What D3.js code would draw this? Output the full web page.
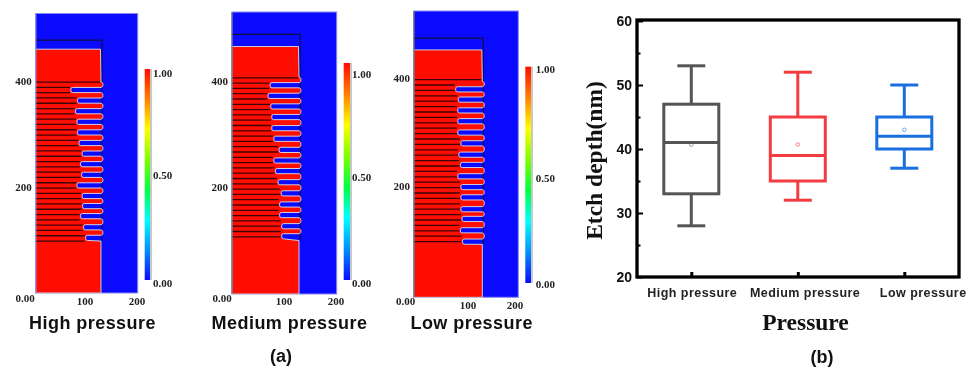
<!DOCTYPE html>
<html lang="en">
    <head>
        <meta charset="utf-8">
        <title>Etch depth</title>
        <script type="text/javascript" src="https://d3js.org/d3.v7.min.js"></script>
        <style type="text/css">
          html, body { margin: 0; padding: 0; background: #fff; }
          svg { display: block; filter: blur(0.45px); }
          .sans { font-family: "Liberation Sans", Arial, sans-serif; font-weight: bold; }
          .serif { font-family: "Liberation Serif", "Times New Roman", serif; font-weight: bold; }
        </style>
    </head>
    <body>
        <svg width="972" height="370"></svg>
        <script type="text/javascript">
            //(a) simulation panels: groove centre height and groove tip position
            const panelNames = ["High pressure", "Medium pressure", "Low pressure"];
            const grooveHeightHigh = [383, 363, 343, 323, 303, 283, 263, 243, 223, 203, 183, 164, 145, 124, 104];
            const grooveTipHigh = [69, 82, 78, 81, 82, 85, 91, 88, 90, 81, 91, 92, 88, 94, 98];
            const grooveHeightMedium = [392, 372, 352, 332, 311, 291, 270, 250, 230, 209, 188, 167, 147, 126, 107];
            const grooveTipMedium = [73, 69, 74, 76, 76, 80, 90, 80, 83, 88, 94, 91, 91, 95, 95];
            const grooveHeightLow = [379, 360, 340, 320, 299, 279, 258, 239, 218, 198, 179, 157, 139, 118, 97];
            const grooveTipLow = [80, 85, 84, 84, 84, 90, 86, 89, 84, 90, 90, 90, 92, 89, 93];
            const stripeLevels = [300, 290, 280, 270, 260, 250, 240, 230, 220, 210, 200, 190, 180, 170, 160, 150, 140, 130, 120, 110, 100, 90, 80, 70, 60, 50, 40, 30, 20, 10, 0];
            const xTicksA = [100, 200];
            const yTicksA = [400, 200];
            const barTicks = [1, 0.5, 0];
            const jetStops = ["#ff0a00", "#ff8000", "#ffff00", "#80ff00", "#00ff40", "#00ffff", "#0090ff", "#0a0aff"];

            //(b) box plot
            const boxNames = ["High pressure", "Medium pressure", "Low pressure"];
            const whiskerLow = [28, 32, 37];
            const boxQ1 = [33, 35, 40];
            const boxMedian = [41, 39, 42];
            const boxQ3 = [47, 45, 45];
            const whiskerHigh = [53, 52, 50];
            const boxMean = [40.7, 40.7, 43];
            const boxColors = ["#555555", "#f23c42", "#1a6fe0"];
            const yTicksB = [20, 30, 40, 50, 60];
            const yMinorB = [25, 35, 45, 55];

            const svg = d3.select("svg");
            const BLUE = "#0a0aff", RED = "#ff0d00", EDGE = "#cfcfdc";

            //where each panel sits on the page
            const layout = [
              {name: panelNames[0], heights: grooveHeightHigh, tips: grooveTipHigh, left: 35.7, right: 137.7, y0: 293, y400: 81,
               top: 13.5, bottom: 293, solidTop: 460, boxTop: 477, blockTop: 98, wall: 128, stripeShift: 98, leftEdge: "#8a8aee",
               bar: [144.7, 150, 69, 280], barY: [73, 175, 283], barX: 153,
               zeroX: 25, zeroY: 298, tickY: 301, tickX: [85, 137], titleX: 92.5},
              {name: panelNames[1], heights: grooveHeightMedium, tips: grooveTipMedium, left: 232, right: 336.7, y0: 293, y400: 81,
               top: 12, bottom: 294, solidTop: 465, boxTop: 488, blockTop: 99, wall: 128, stripeShift: 106, leftEdge: "#666680",
               bar: [343.7, 350, 63, 280], barY: [74, 177, 283], barX: 352,
               zeroX: 222, zeroY: 298, tickY: 301, tickX: [284, 336], titleX: 289.5},
              {name: panelNames[2], heights: grooveHeightLow, tips: grooveTipLow, left: 414, right: 518.3, y0: 294, y400: 78,
               top: 11, bottom: 297.3, solidTop: 452, boxTop: 474, blockTop: 92, wall: 131, stripeShift: 97, leftEdge: "#555566",
               bar: [525.3, 531, 66.7, 283], barY: [69, 178, 284], barX: 535.7,
               zeroX: 405.7, zeroY: 301, tickY: 305, tickX: [468, 515], titleX: 471.7}
            ];

            //colorbar gradient
            const defs = svg.append("defs");
            const gradient = defs.append("linearGradient")
                                 .attr("id", "jet")
                                 .attr("x1", 0).attr("x2", 0)
                                 .attr("y1", 0).attr("y2", 1);
            gradient.selectAll("stop")
                    .data(jetStops)
                    .enter()
                    .append("stop")
                    .attr("offset", (d, i) => i / (jetStops.length - 1))
                    .attr("stop-color", d => d);

            //outline of the etched material, bottom wall first then up over the fins
            function materialPath(p, x, y) {
              const path = d3.path();
              const wall = x(p.wall), half = 2.6, bend = 1.8, bulge = 2.6;
              path.moveTo(p.left, p.bottom);
              path.lineTo(wall, p.bottom);
              let last = y(p.blockTop);
              path.lineTo(wall, last);
              const order = d3.range(p.heights.length).reverse();
              order.forEach((k, n) => {
                const cy = y(p.heights[k]), tip = x(p.tips[k]);
                const low = cy + half, high = cy - half;
                if (n > 0) path.bezierCurveTo(wall + bulge, last, wall + bulge, low, wall, low);
                path.lineTo(tip + bend, low);
                path.quadraticCurveTo(tip, low, tip, low - bend);
                path.lineTo(tip, high + bend);
                path.quadraticCurveTo(tip, high, tip + bend, high);
                path.lineTo(wall, high);
                last = high;
              });
              const fin = last - 5.5;
              path.bezierCurveTo(wall + bulge, last, wall + bulge, fin, wall, fin);
              path.lineTo(wall - 0.5, y(p.solidTop));
              path.lineTo(p.left, y(p.solidTop));
              path.closePath();
              return path.toString();
            }

            layout.forEach(p => {
              const g = svg.append("g");
              const x = d3.scaleLinear().domain([0, 200]).range([p.left, p.right]);
              const y = d3.scaleLinear().domain([0, 400]).range([p.y0, p.y400]);
              const wall = x(p.wall);

              //blue gas region
              g.append("rect")
               .attr("x", p.left).attr("y", p.top)
               .attr("width", p.right - p.left).attr("height", p.bottom - p.top)
               .attr("fill", BLUE)
               .attr("stroke", "#8a8aee")
               .attr("stroke-width", 1);

              //black mask outline
              g.append("path")
               .attr("d", `M${p.left},${y(p.boxTop)}H${wall + 1}V${y(p.blockTop)}`)
               .attr("fill", "none")
               .attr("stroke", "#101040")
               .attr("stroke-width", 1.2);

              //material
              g.append("path")
               .attr("d", materialPath(p, x, y))
               .attr("fill", RED)
               .attr("stroke", EDGE)
               .attr("stroke-width", 1);

              //dark layer lines, they stop at the nearest groove tip
              g.selectAll("line.stripe")
               .data(stripeLevels)
               .enter()
               .append("line")
               .attr("class", "stripe")
               .attr("x1", p.left + 0.5)
               .attr("x2", d => {
                 const h = d + p.stripeShift;
                 const k = d3.leastIndex(p.heights, (a, b) => Math.abs(a - h) - Math.abs(b - h));
                 return Math.abs(p.heights[k] - h) > 13 ? wall - 1 : x(p.tips[k]) - 1;
               })
               .attr("y1", d => y(d + p.stripeShift))
               .attr("y2", d => y(d + p.stripeShift))
               .attr("stroke", "#3c0505")
               .attr("stroke-width", 1.3);

              //left edge of the domain
              g.append("line")
               .attr("x1", p.left).attr("x2", p.left)
               .attr("y1", p.top).attr("y2", p.bottom)
               .attr("stroke", p.leftEdge)
               .attr("stroke-width", 1.2);

              //y tick labels
              g.selectAll("text.ty")
               .data(yTicksA)
               .enter()
               .append("text")
               .attr("class", "ty serif")
               .attr("x", p.left - 4)
               .attr("y", d => y(d))
               .attr("dy", "0.35em")
               .attr("text-anchor", "end")
               .attr("font-size", 11)
               .attr("fill", "#222")
               .text(d => d);

              //x tick labels, they drift from the scale in the source figure
              g.selectAll("text.tx")
               .data(xTicksA)
               .enter()
               .append("text")
               .attr("class", "tx serif")
               .attr("x", (d, i) => p.tickX[i])
               .attr("y", p.tickY)
               .attr("dy", "0.35em")
               .attr("text-anchor", "middle")
               .attr("font-size", 11)
               .attr("fill", "#222")
               .text(d => d);
              g.append("text")
               .attr("class", "serif")
               .attr("x", p.zeroX).attr("y", p.zeroY)
               .attr("dy", "0.35em")
               .attr("text-anchor", "middle")
               .attr("font-size", 11)
               .attr("fill", "#222")
               .text("0.00");

              //colorbar
              const [bx0, bx1, by0, by1] = p.bar;
              g.append("rect")
               .attr("x", bx1).attr("y", by0)
               .attr("width", 2).attr("height", by1 - by0)
               .attr("fill", "#c8c8c8");
              g.append("rect")
               .attr("x", bx0).attr("y", by0)
               .attr("width", bx1 - bx0).attr("height", by1 - by0)
               .attr("fill", "url(#jet)");
              g.selectAll("text.tb")
               .data(barTicks)
               .enter()
               .append("text")
               .attr("class", "tb serif")
               .attr("x", p.barX)
               .attr("y", (d, i) => p.barY[i])
               .attr("dy", "0.35em")
               .attr("font-size", 11)
               .attr("fill", "#222")
               .text(d => d3.format(".2f")(d));

              //panel name
              svg.append("text")
                 .attr("class", "sans")
                 .attr("x", p.titleX).attr("y", 329)
                 .attr("text-anchor", "middle")
                 .attr("font-size", 18)
                 .attr("letter-spacing", 0.45)
                 .attr("fill", "#111")
                 .text(p.name);
            });

            svg.append("text").attr("class", "sans")
               .attr("x", 281).attr("y", 362)
               .attr("text-anchor", "middle")
               .attr("font-size", 18)
               .attr("fill", "#111")
               .text("(a)");

            //box plot
            const yB = d3.scaleLinear().domain([20, 60]).range([277, 21]);
            const xB = d3.scalePoint().domain(boxNames).range([691.3, 904.3]);
            const frame = {x: 637, y: 20, w: 322, h: 257};
            const labelShift = [0.5, 6.8, 18.4];
            const plot = svg.append("g");

            const axisY = plot.append("g")
                              .attr("transform", `translate(${frame.x},0)`)
                              .call(d3.axisLeft(yB).tickValues(yTicksB).tickSize(-6).tickPadding(5));
            axisY.select(".domain").remove();
            axisY.selectAll("line").attr("stroke", "#000").attr("stroke-width", 2);
            axisY.selectAll("text")
                 .attr("class", "sans")
                 .attr("font-size", 14)
                 .attr("fill", "#111");

            const minorY = plot.append("g")
                               .attr("transform", `translate(${frame.x},0)`)
                               .call(d3.axisLeft(yB).tickValues(yMinorB).tickSize(-3.5).tickFormat(""));
            minorY.select(".domain").remove();
            minorY.selectAll("line").attr("stroke", "#000").attr("stroke-width", 2);

            const axisX = plot.append("g")
                              .attr("transform", `translate(0,${frame.y + frame.h})`)
                              .call(d3.axisBottom(xB).tickSize(-5).tickPadding(11));
            axisX.select(".domain").remove();
            axisX.selectAll("line").attr("stroke", "#000").attr("stroke-width", 3);
            axisX.selectAll("text")
                 .attr("class", "sans")
                 .attr("font-size", 12.5)
                 .attr("letter-spacing", 0.45)
                 .attr("fill", "#222")
                 .attr("x", (d, i) => labelShift[i]);

            plot.append("rect")
                .attr("x", frame.x).attr("y", frame.y)
                .attr("width", frame.w).attr("height", frame.h)
                .attr("fill", "none")
                .attr("stroke", "#000")
                .attr("stroke-width", 3.3);

            const boxW = 55, capW = 28;
            boxNames.forEach((name, i) => {
              const g = plot.append("g")
                            .attr("stroke", boxColors[i])
                            .attr("stroke-width", 3)
                            .attr("fill", "none");
              const cx = xB(name);
              //whiskers
              g.append("line").attr("x1", cx).attr("x2", cx).attr("y1", yB(whiskerHigh[i])).attr("y2", yB(boxQ3[i]));
              g.append("line").attr("x1", cx).attr("x2", cx).attr("y1", yB(boxQ1[i])).attr("y2", yB(whiskerLow[i]));
              g.append("line").attr("x1", cx - capW / 2).attr("x2", cx + capW / 2).attr("y1", yB(whiskerHigh[i])).attr("y2", yB(whiskerHigh[i]));
              g.append("line").attr("x1", cx - capW / 2).attr("x2", cx + capW / 2).attr("y1", yB(whiskerLow[i])).attr("y2", yB(whiskerLow[i]));
              //box + median
              g.append("rect")
               .attr("x", cx - boxW / 2).attr("y", yB(boxQ3[i]))
               .attr("width", boxW).attr("height", yB(boxQ1[i]) - yB(boxQ3[i]));
              g.append("line").attr("x1", cx - boxW / 2).attr("x2", cx + boxW / 2).attr("y1", yB(boxMedian[i])).attr("y2", yB(boxMedian[i]));
              //mean
              g.append("circle")
               .attr("cx", cx).attr("cy", yB(boxMean[i]))
               .attr("r", 1.8)
               .attr("stroke-width", 0.8)
               .attr("opacity", 0.75);
            });

            svg.append("text").attr("class", "serif")
               .attr("x", 805.5).attr("y", 330)
               .attr("text-anchor", "middle")
               .attr("font-size", 23.5)
               .attr("fill", "#111")
               .text("Pressure");

            svg.append("text").attr("class", "serif")
               .attr("transform", "translate(601.5,160.5) rotate(-90)")
               .attr("text-anchor", "middle")
               .attr("font-size", 23.5)
               .attr("fill", "#111")
               .text("Etch depth(nm)");

            svg.append("text").attr("class", "sans")
               .attr("x", 822).attr("y", 363)
               .attr("text-anchor", "middle")
               .attr("font-size", 18)
               .attr("fill", "#111")
               .text("(b)");
        </script>
    </body>
</html>
